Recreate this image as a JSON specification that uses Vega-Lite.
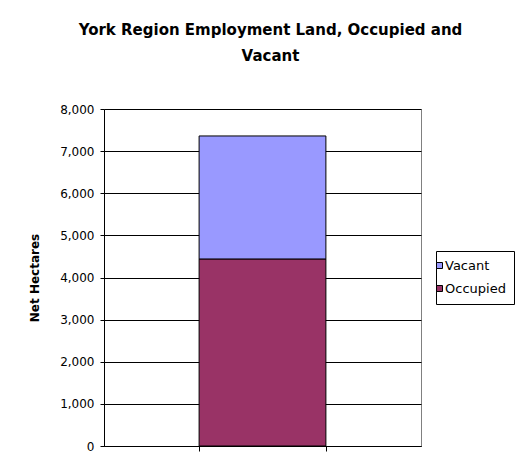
{
  "$schema": "https://vega.github.io/schema/vega-lite/v6.json",
  "width": 317,
  "height": 337,
  "autosize": {"type": "none"},
  "padding": {"left": 104, "top": 109, "right": 100, "bottom": 30},
  "background": "white",
  "config": {
    "font": "DejaVu Sans",
    "view": {"stroke": "#808080", "strokeWidth": 1}
  },
  "title": {
    "text": ["York Region Employment Land, Occupied and", "Vacant"],
    "fontSize": 15,
    "fontWeight": "bold",
    "font": "DejaVu Sans",
    "color": "black",
    "anchor": "middle",
    "dx": 8,
    "offset": 39,
    "lineHeight": 26
  },
  "data": {
    "values": [
      {"category": "York Region", "series": "Occupied", "hectares": 4440},
      {"category": "York Region", "series": "Vacant", "hectares": 2920}
    ]
  },
  "mark": {"type": "bar", "stroke": "black", "strokeWidth": 1},
  "encoding": {
    "x": {
      "field": "category",
      "type": "nominal",
      "scale": {"paddingInner": 0.6, "paddingOuter": 0.3},
      "axis": {
        "title": null,
        "labels": false,
        "tickBand": "extent",
        "tickSize": 5,
        "tickColor": "black",
        "domainColor": "black",
        "grid": false
      }
    },
    "y": {
      "field": "hectares",
      "type": "quantitative",
      "stack": "zero",
      "scale": {"domain": [0, 8000], "nice": false},
      "axis": {
        "title": "Net Hectares",
        "titleFontSize": 12,
        "titleFontWeight": "bold",
        "titleColor": "black",
        "titlePadding": 18,
        "values": [0, 1000, 2000, 3000, 4000, 5000, 6000, 7000, 8000],
        "format": ",.0f",
        "labelFontSize": 12,
        "labelColor": "black",
        "labelPadding": 6,
        "tickSize": 4,
        "tickColor": "black",
        "domainColor": "black",
        "grid": true,
        "gridColor": "black",
        "gridOpacity": 1
      }
    },
    "color": {
      "field": "series",
      "type": "nominal",
      "scale": {"domain": ["Vacant", "Occupied"], "range": ["#9999FF", "#993366"]},
      "legend": {
        "title": null,
        "orient": "none",
        "legendX": 332,
        "legendY": 142,
        "strokeColor": "black",
        "fillColor": "white",
        "padding": 8,
        "symbolType": "square",
        "symbolSize": 36,
        "symbolStrokeColor": "black",
        "symbolStrokeWidth": 1,
        "symbolOffset": -11,
        "labelOffset": -1,
        "labelFontSize": 13,
        "labelColor": "black",
        "rowPadding": 9
      }
    },
    "order": {"field": "series", "sort": "ascending"}
  }
}
